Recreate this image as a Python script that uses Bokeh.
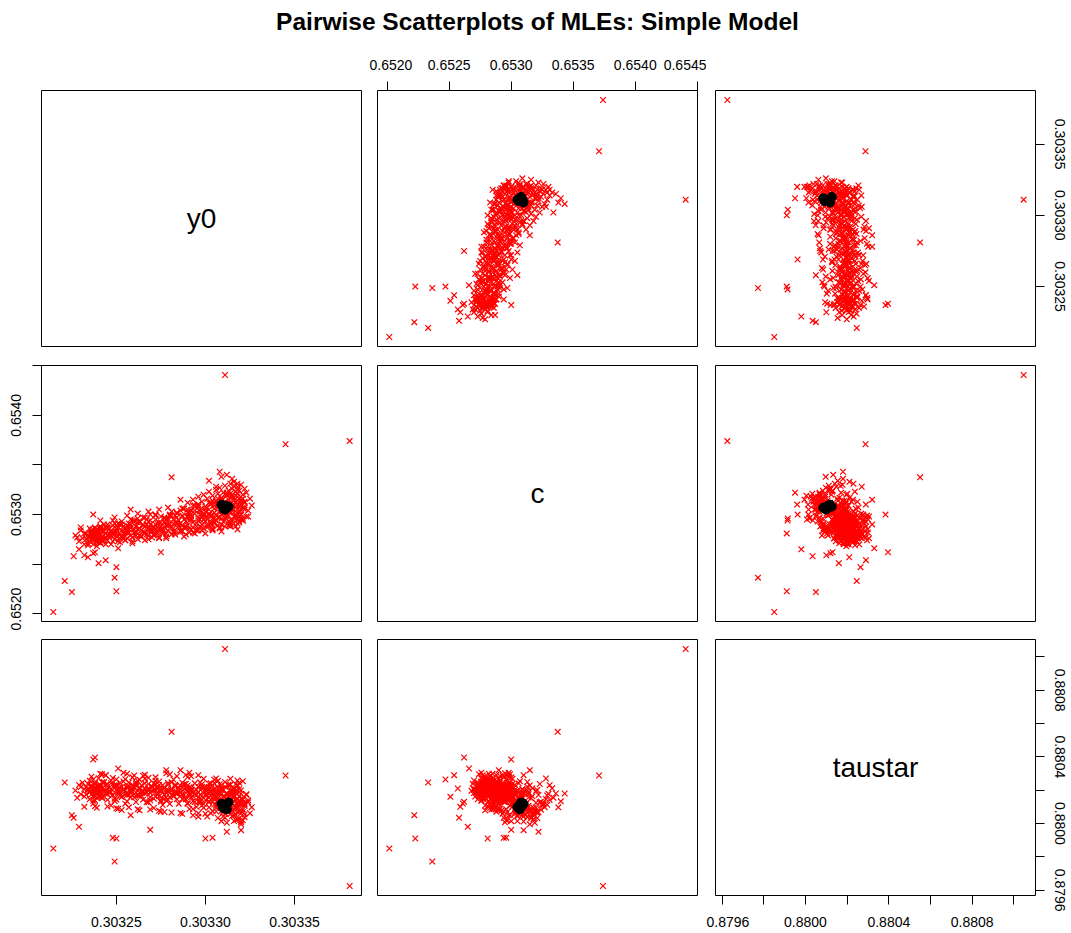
import numpy as np
from bokeh.core.properties import value
from bokeh.embed import file_html
from bokeh.layouts import column, gridplot
from bokeh.models import CustomJSTickFormatter, FixedTicker, LinearAxis, Range1d
from bokeh.plotting import figure
from bokeh.resources import INLINE

TITLE = "Pairwise Scatterplots of MLEs: Simple Model"
names = ["y0", "c", "taustar"]

# ---- simulated MLE replicates (red crosses) ----
# far-off replicates
y0_far = [0.3032146, 0.303225, 0.303221, 0.303250, 0.303249, 0.303250, 0.303240,
          0.303234, 0.303237, 0.303381, 0.303345, 0.303311, 0.303308, 0.303281]
c_far = [0.652018, 0.652219, 0.652331, 0.652227, 0.652364, 0.652470, 0.652510,
         0.652570, 0.652610, 0.653740, 0.653708, 0.654406, 0.653431, 0.653375]
tau_far = [0.879850, 0.880050, 0.880246, 0.879910, 0.879772, 0.880264, 0.880160,
           0.880210, 0.880120, 0.879625, 0.880288, 0.881047, 0.880180, 0.880550]

# replicates at the fringe of the main cloud
y0_fringe = [0.303238, 0.303251, 0.303278, 0.303291, 0.303296, 0.303300, 0.303304, 0.303312,
             0.303318, 0.303315, 0.303306, 0.303269, 0.303248, 0.303226, 0.303237, 0.303244,
             0.303232, 0.303229, 0.303320, 0.303286, 0.303275, 0.303258]
c_fringe = [0.65262, 0.65266, 0.65290, 0.65298, 0.65310, 0.65281, 0.65296, 0.65322,
            0.65331, 0.65336, 0.65328, 0.65300, 0.65294, 0.65258, 0.65300, 0.65254,
            0.65259, 0.65265, 0.65310, 0.65315, 0.65262, 0.65305]
tau_fringe = [0.880396, 0.880330, 0.880320, 0.880305, 0.880290, 0.879910, 0.879915, 0.879950,
              0.880230, 0.880180, 0.880270, 0.879962, 0.879914, 0.880034, 0.880384, 0.880290,
              0.880100, 0.879980, 0.879960, 0.880320, 0.880130, 0.880050]

# replicates along the edges of the main cloud
y0_edge = [0.303227, 0.303229, 0.303230, 0.303231, 0.303232, 0.303232, 0.303230, 0.303228,
           0.303241, 0.303249, 0.303256, 0.303262, 0.303268, 0.303274, 0.303279,
           0.303291, 0.303298, 0.303304, 0.303309, 0.303314, 0.303318,
           0.303324, 0.303325, 0.303323, 0.303326, 0.303324,
           0.303302, 0.303309, 0.303316, 0.303312]
c_edge = [0.65279, 0.65273, 0.65284, 0.65276, 0.65281, 0.65270, 0.65287, 0.65277,
          0.65294, 0.65297, 0.65299, 0.65301, 0.65303, 0.65305, 0.65307,
          0.65282, 0.65284, 0.65286, 0.65283, 0.65288, 0.65285,
          0.65304, 0.65316, 0.65322, 0.65309, 0.65298,
          0.65334, 0.65338, 0.65333, 0.65340]
tau_edge = [0.880198, 0.880231, 0.880176, 0.880245, 0.880162, 0.880207, 0.880219, 0.880154,
            0.880186, 0.880149, 0.880213, 0.880167, 0.880128, 0.880195, 0.880142,
            0.880176, 0.880142, 0.880201, 0.880118, 0.880163, 0.880089,
            0.880127, 0.880062, 0.880171, 0.880098, 0.880139,
            0.880155, 0.880097, 0.880211, 0.880133]

# main cloud, low y0
y0_low = [0.303234, 0.303235, 0.303236, 0.303237, 0.303237, 0.303238, 0.303239, 0.303241,
          0.303242, 0.303243, 0.303244, 0.303245, 0.303238, 0.303240, 0.303246,
          0.303247, 0.303248, 0.303249, 0.303250, 0.303251, 0.303252, 0.303253, 0.303254,
          0.303255, 0.303256, 0.303257, 0.303258, 0.303259, 0.303260, 0.303261, 0.303262,
          0.303250, 0.303255, 0.303259,
          0.303233, 0.303233, 0.303234, 0.303235, 0.303235, 0.303235, 0.303236, 0.303236,
          0.303237, 0.303237, 0.303238, 0.303238, 0.303238, 0.303239, 0.303239, 0.303239,
          0.303240, 0.303240, 0.303240, 0.303241, 0.303241, 0.303242, 0.303242, 0.303234,
          0.303236, 0.303237, 0.303239, 0.303241,
          0.303241, 0.303241, 0.303242, 0.303243, 0.303243, 0.303244, 0.303245, 0.303245,
          0.303246, 0.303247, 0.303247, 0.303248, 0.303249, 0.303249, 0.303250, 0.303251,
          0.303251, 0.303252, 0.303253, 0.303253, 0.303254, 0.303255, 0.303255, 0.303242,
          0.303246, 0.303250, 0.303252, 0.303254]
c_low = [0.65271, 0.65276, 0.65281, 0.65274, 0.65285, 0.65279, 0.65272, 0.65288,
         0.65277, 0.65283, 0.65270, 0.65290, 0.65286, 0.65275, 0.65280,
         0.65284, 0.65273, 0.65291, 0.65278, 0.65287, 0.65276, 0.65293, 0.65281,
         0.65274, 0.65289, 0.65282, 0.65295, 0.65277, 0.65285, 0.65279, 0.65292,
         0.65283, 0.65286, 0.65271,
         0.65275, 0.65281, 0.65269, 0.65278, 0.65286, 0.65273, 0.65280, 0.65284,
         0.65270, 0.65277, 0.65287, 0.65274, 0.65282, 0.65268, 0.65279, 0.65285,
         0.65272, 0.65276, 0.65283, 0.65271, 0.65288, 0.65278, 0.65273, 0.65279,
         0.65284, 0.65276, 0.65281, 0.65286,
         0.65279, 0.65272, 0.65285, 0.65276, 0.65290, 0.65281, 0.65274, 0.65287,
         0.65278, 0.65283, 0.65270, 0.65289, 0.65275, 0.65282, 0.65286, 0.65273,
         0.65291, 0.65280, 0.65277, 0.65284, 0.65288, 0.65274, 0.65282, 0.65283,
         0.65286, 0.65281, 0.65290, 0.65277]
tau_low = [0.880205, 0.880188, 0.880221, 0.880163, 0.880197, 0.880235, 0.880182, 0.880214,
           0.880152, 0.880246, 0.880201, 0.880176, 0.880139, 0.880228, 0.880193,
           0.880207, 0.880171, 0.880229, 0.880144, 0.880188, 0.880216, 0.880161, 0.880252,
           0.880198, 0.880133, 0.880224, 0.880185, 0.880209, 0.880157, 0.880238, 0.880176,
           0.880203, 0.880119, 0.880191,
           0.880216, 0.880174, 0.880238, 0.880192, 0.880257, 0.880145, 0.880229, 0.880201,
           0.880183, 0.880264, 0.880167, 0.880211, 0.880242, 0.880196, 0.880153, 0.880224,
           0.880187, 0.880271, 0.880208, 0.880162, 0.880231, 0.880179, 0.880247, 0.880199,
           0.880218, 0.880136, 0.880205, 0.880189,
           0.880193, 0.880227, 0.880161, 0.880249, 0.880204, 0.880178, 0.880236, 0.880142,
           0.880215, 0.880189, 0.880258, 0.880171, 0.880213, 0.880134, 0.880226, 0.880197,
           0.880182, 0.880244, 0.880159, 0.880219, 0.880201, 0.880174, 0.880266, 0.880210,
           0.880185, 0.880232, 0.880166, 0.880207]

# main cloud, middle y0
y0_mid = [0.303263, 0.303264, 0.303265, 0.303266, 0.303267, 0.303268, 0.303269, 0.303270,
          0.303271, 0.303272, 0.303273, 0.303274, 0.303275, 0.303276, 0.303277, 0.303278,
          0.303279, 0.303280, 0.303266, 0.303272, 0.303278,
          0.303281, 0.303282, 0.303283, 0.303284, 0.303285, 0.303286, 0.303287, 0.303288,
          0.303289, 0.303290, 0.303291, 0.303292, 0.303293, 0.303294, 0.303295, 0.303296,
          0.303297, 0.303298, 0.303284, 0.303290, 0.303295,
          0.303256, 0.303256, 0.303257, 0.303258, 0.303258, 0.303259, 0.303260, 0.303260,
          0.303261, 0.303262, 0.303262, 0.303263, 0.303264, 0.303264, 0.303265, 0.303266,
          0.303266, 0.303267, 0.303268, 0.303268, 0.303269, 0.303270, 0.303270, 0.303257,
          0.303261, 0.303263, 0.303267, 0.303269,
          0.303271, 0.303271, 0.303272, 0.303273, 0.303273, 0.303274, 0.303275, 0.303275,
          0.303276, 0.303277, 0.303277, 0.303278, 0.303279, 0.303279, 0.303280, 0.303281,
          0.303281, 0.303282, 0.303283, 0.303283, 0.303284, 0.303285, 0.303285, 0.303272,
          0.303276, 0.303278, 0.303282, 0.303284,
          0.303286, 0.303286, 0.303287, 0.303288, 0.303288, 0.303289, 0.303290, 0.303290,
          0.303291, 0.303292, 0.303292, 0.303293, 0.303294, 0.303294, 0.303295, 0.303296,
          0.303296, 0.303297, 0.303298, 0.303298, 0.303299, 0.303300, 0.303300, 0.303287,
          0.303291, 0.303293, 0.303297, 0.303299]
c_mid = [0.65286, 0.65278, 0.65297, 0.65282, 0.65290, 0.65275, 0.65294, 0.65284,
         0.65280, 0.65299, 0.65287, 0.65277, 0.65292, 0.65283, 0.65296, 0.65281,
         0.65289, 0.65300, 0.65288, 0.65285, 0.65276,
         0.65287, 0.65295, 0.65280, 0.65302, 0.65290, 0.65284, 0.65298, 0.65278,
         0.65293, 0.65305, 0.65286, 0.65296, 0.65282, 0.65301, 0.65291, 0.65308,
         0.65288, 0.65299, 0.65292, 0.65297, 0.65284,
         0.65283, 0.65276, 0.65291, 0.65279, 0.65287, 0.65273, 0.65294, 0.65282,
         0.65288, 0.65275, 0.65285, 0.65292, 0.65278, 0.65284, 0.65289, 0.65274,
         0.65281, 0.65295, 0.65286, 0.65279, 0.65290, 0.65283, 0.65277, 0.65288,
         0.65282, 0.65293, 0.65280, 0.65286,
         0.65288, 0.65279, 0.65295, 0.65283, 0.65291, 0.65276, 0.65298, 0.65285,
         0.65281, 0.65293, 0.65287, 0.65278, 0.65296, 0.65284, 0.65290, 0.65280,
         0.65299, 0.65286, 0.65292, 0.65282, 0.65297, 0.65288, 0.65294, 0.65290,
         0.65285, 0.65289, 0.65283, 0.65301,
         0.65291, 0.65283, 0.65299, 0.65287, 0.65295, 0.65280, 0.65302, 0.65289,
         0.65294, 0.65285, 0.65298, 0.65292, 0.65281, 0.65304, 0.65288, 0.65296,
         0.65284, 0.65300, 0.65290, 0.65297, 0.65286, 0.65303, 0.65293, 0.65289,
         0.65301, 0.65287, 0.65295, 0.65299]
tau_mid = [0.880214, 0.880167, 0.880195, 0.880241, 0.880128, 0.880206, 0.880183, 0.880222,
           0.880149, 0.880201, 0.880174, 0.880231, 0.880192, 0.880111, 0.880215, 0.880186,
           0.880243, 0.880158, 0.880179, 0.880257, 0.880138,
           0.880197, 0.880162, 0.880224, 0.880181, 0.880119, 0.880208, 0.880173, 0.880236,
           0.880146, 0.880193, 0.880087, 0.880214, 0.880165, 0.880129, 0.880202, 0.880156,
           0.880247, 0.880108, 0.880189, 0.880228, 0.880171,
           0.880221, 0.880183, 0.880246, 0.880157, 0.880205, 0.880232, 0.880176, 0.880214,
           0.880129, 0.880198, 0.880255, 0.880167, 0.880228, 0.880191, 0.880143, 0.880212,
           0.880269, 0.880185, 0.880203, 0.880237, 0.880158, 0.880196, 0.880221, 0.880174,
           0.880248, 0.880206, 0.880189, 0.880139,
           0.880198, 0.880241, 0.880163, 0.880217, 0.880186, 0.880252, 0.880139, 0.880204,
           0.880229, 0.880175, 0.880212, 0.880156, 0.880234, 0.880191, 0.880118, 0.880208,
           0.880247, 0.880169, 0.880225, 0.880183, 0.880146, 0.880213, 0.880196, 0.880236,
           0.880152, 0.880201, 0.880264, 0.880177,
           0.880184, 0.880226, 0.880147, 0.880209, 0.880171, 0.880238, 0.880122, 0.880195,
           0.880217, 0.880158, 0.880203, 0.880134, 0.880241, 0.880176, 0.880099, 0.880221,
           0.880188, 0.880152, 0.880209, 0.880236, 0.880117, 0.880174, 0.880199, 0.880245,
           0.880163, 0.880187, 0.880128, 0.880214]

# main cloud, high y0
y0_high = [0.303299, 0.303300, 0.303301, 0.303302, 0.303303, 0.303304, 0.303305, 0.303306,
           0.303307, 0.303308, 0.303309, 0.303310, 0.303311, 0.303312, 0.303300, 0.303304,
           0.303308, 0.303310, 0.303302,
           0.303313, 0.303314, 0.303315, 0.303316, 0.303317, 0.303318, 0.303319, 0.303320,
           0.303321, 0.303322, 0.303316, 0.303313, 0.303319, 0.303314,
           0.303301, 0.303301, 0.303302, 0.303303, 0.303303, 0.303304, 0.303304, 0.303305,
           0.303306, 0.303306, 0.303307, 0.303307, 0.303308, 0.303308, 0.303309, 0.303309,
           0.303310, 0.303310, 0.303311, 0.303311, 0.303312, 0.303312, 0.303302, 0.303305,
           0.303307, 0.303309, 0.303311, 0.303303,
           0.303313, 0.303313, 0.303314, 0.303314, 0.303315, 0.303315, 0.303316, 0.303316,
           0.303317, 0.303317, 0.303318, 0.303318, 0.303319, 0.303319, 0.303320, 0.303320,
           0.303321, 0.303321, 0.303322, 0.303322, 0.303323, 0.303314, 0.303316, 0.303317,
           0.303319, 0.303320, 0.303315, 0.303318]
c_high = [0.65295, 0.65306, 0.65289, 0.65312, 0.65299, 0.65285, 0.65309, 0.65294,
          0.65316, 0.65302, 0.65290, 0.65311, 0.65297, 0.65320, 0.65293, 0.65314,
          0.65287, 0.65305, 0.65301,
          0.65304, 0.65292, 0.65318, 0.65309, 0.65297, 0.65325, 0.65302, 0.65313,
          0.65294, 0.65307, 0.65329, 0.65289, 0.65316, 0.65321,
          0.65296, 0.65287, 0.65305, 0.65291, 0.65310, 0.65299, 0.65284, 0.65302,
          0.65294, 0.65313, 0.65289, 0.65307, 0.65297, 0.65286, 0.65304, 0.65316,
          0.65293, 0.65301, 0.65288, 0.65311, 0.65298, 0.65306, 0.65300, 0.65292,
          0.65309, 0.65296, 0.65303, 0.65290,
          0.65299, 0.65311, 0.65290, 0.65306, 0.65318, 0.65295, 0.65302, 0.65314,
          0.65288, 0.65308, 0.65321, 0.65297, 0.65304, 0.65292, 0.65310, 0.65300,
          0.65316, 0.65294, 0.65305, 0.65312, 0.65298, 0.65303, 0.65291, 0.65313,
          0.65307, 0.65296, 0.65309, 0.65301]
tau_high = [0.880183, 0.880141, 0.880216, 0.880097, 0.880168, 0.880134, 0.880205, 0.880072,
            0.880152, 0.880119, 0.880229, 0.880088, 0.880161, 0.880124, 0.880059, 0.880187,
            0.880103, 0.880043, 0.880238,
            0.880137, 0.880176, 0.880094, 0.880158, 0.880021, 0.880117, 0.880189, 0.880063,
            0.880142, 0.880105, 0.880168, 0.880082, 0.880031, 0.880201,
            0.880171, 0.880208, 0.880133, 0.880195, 0.880062, 0.880152, 0.880227, 0.880114,
            0.880186, 0.880093, 0.880214, 0.880141, 0.880178, 0.880236, 0.880124, 0.880075,
            0.880199, 0.880162, 0.880221, 0.880108, 0.880147, 0.880183, 0.880219, 0.880166,
            0.880131, 0.880204, 0.880058, 0.880241,
            0.880154, 0.880091, 0.880196, 0.880128, 0.880045, 0.880172, 0.880213, 0.880106,
            0.880187, 0.880139, 0.880068, 0.880224, 0.880117, 0.880161, 0.880012, 0.880198,
            0.880083, 0.880146, 0.880121, 0.880054, 0.880176, 0.880232, 0.880134, 0.880197,
            0.880072, 0.880149, 0.880185, 0.880101]

# upper end of the cloud: large y0, spread-out c
y0_top = [0.303288, 0.303290, 0.303291, 0.303293, 0.303294, 0.303296, 0.303297, 0.303298, 0.303299, 0.303300,
          0.303301, 0.303302, 0.303303, 0.303304, 0.303305, 0.303306, 0.303306, 0.303307, 0.303308, 0.303308,
          0.303309, 0.303310, 0.303310, 0.303311, 0.303311, 0.303312, 0.303312, 0.303313, 0.303313, 0.303314,
          0.303314, 0.303315, 0.303315, 0.303316, 0.303316, 0.303317, 0.303317, 0.303318, 0.303318, 0.303319,
          0.303319, 0.303320, 0.303320, 0.303321, 0.303321, 0.303322, 0.303322, 0.303305, 0.303309, 0.303313,
          0.303316, 0.303318, 0.303320, 0.303303, 0.303307, 0.303311, 0.303314, 0.303317, 0.303319, 0.303321]
c_top = [0.65306, 0.65312, 0.65303, 0.65315, 0.65309, 0.65318, 0.65305, 0.65313, 0.65320, 0.65308,
         0.65316, 0.65323, 0.65311, 0.65319, 0.65306, 0.65325, 0.65314, 0.65321, 0.65310, 0.65327,
         0.65317, 0.65304, 0.65322, 0.65313, 0.65329, 0.65319, 0.65308, 0.65324, 0.65315, 0.65331,
         0.65311, 0.65320, 0.65326, 0.65305, 0.65317, 0.65323, 0.65312, 0.65328, 0.65318, 0.65309,
         0.65324, 0.65315, 0.65330, 0.65320, 0.65307, 0.65326, 0.65313, 0.65296, 0.65300, 0.65293,
         0.65298, 0.65291, 0.65295, 0.65292, 0.65297, 0.65294, 0.65290, 0.65299, 0.65293, 0.65296]
tau_top = [0.880152, 0.880118, 0.880203, 0.880087, 0.880176, 0.880061, 0.880134, 0.880221, 0.880095, 0.880168,
           0.880042, 0.880127, 0.880193, 0.880074, 0.880241, 0.880109, 0.880156, 0.880033, 0.880185, 0.880098,
           0.880212, 0.880137, 0.880067, 0.880249, 0.880112, 0.880004, 0.880174, 0.880083, 0.880228, 0.880141,
           0.880056, 0.880196, 0.880121, 0.880015, 0.880163, 0.880237, 0.880092, 0.880147, 0.880026, 0.880206,
           0.880131, 0.879995, 0.880178, 0.880069, 0.880254, 0.880113, 0.880038, 0.880262, 0.880014, 0.880233,
           0.880049, 0.880258, 0.880007, 0.880187, 0.880256, 0.880035, 0.880268, 0.880052, 0.880244, 0.880019]

# replicates in the taustar tails of the cloud
y0_wide = [0.303236, 0.303239, 0.303242, 0.303245, 0.303248, 0.303251, 0.303254, 0.303257, 0.303260, 0.303263,
           0.303266, 0.303269, 0.303272, 0.303275, 0.303278, 0.303281, 0.303284, 0.303287, 0.303290, 0.303293,
           0.303238, 0.303244, 0.303250, 0.303256, 0.303262, 0.303268, 0.303274, 0.303280, 0.303286, 0.303292,
           0.303296, 0.303299, 0.303241, 0.303253, 0.303265, 0.303277, 0.303289, 0.303247, 0.303259, 0.303271]
c_wide = [0.65278, 0.65283, 0.65274, 0.65287, 0.65280, 0.65291, 0.65276, 0.65285, 0.65293, 0.65279,
          0.65297, 0.65284, 0.65300, 0.65288, 0.65295, 0.65303, 0.65291, 0.65306, 0.65298, 0.65309,
          0.65281, 0.65277, 0.65289, 0.65282, 0.65296, 0.65286, 0.65292, 0.65299, 0.65304, 0.65295,
          0.65310, 0.65301, 0.65285, 0.65290, 0.65283, 0.65297, 0.65288, 0.65279, 0.65294, 0.65287]
tau_wide = [0.880281, 0.880094, 0.880296, 0.880102, 0.880273, 0.880088, 0.880305, 0.880097, 0.880288, 0.880079,
            0.880292, 0.880084, 0.880277, 0.880071, 0.880301, 0.880066, 0.880284, 0.880058, 0.880279, 0.880049,
            0.880104, 0.880289, 0.880091, 0.880299, 0.880085, 0.880274, 0.880076, 0.880295, 0.880063, 0.880283,
            0.880041, 0.880268, 0.880298, 0.880081, 0.880286, 0.880069, 0.880291, 0.880108, 0.880277, 0.880093]

# extra replicates across the whole cloud
y0_extra = [0.303236, 0.303244, 0.303252, 0.303258, 0.303263, 0.303268, 0.303274, 0.303279,
            0.303283, 0.303287, 0.303292, 0.303296, 0.303301, 0.303305, 0.303309, 0.303312,
            0.303315, 0.303318, 0.303239, 0.303247, 0.303256, 0.303265, 0.303273, 0.303282,
            0.303289, 0.303297, 0.303306, 0.303311, 0.303320, 0.303243, 0.303261]
c_extra = [0.65282, 0.65287, 0.65272, 0.65290, 0.65279, 0.65293, 0.65286, 0.65294,
           0.65299, 0.65283, 0.65304, 0.65294, 0.65298, 0.65291, 0.65314, 0.65299,
           0.65306, 0.65295, 0.65277, 0.65279, 0.65284, 0.65290, 0.65281, 0.65291,
           0.65287, 0.65303, 0.65300, 0.65308, 0.65300, 0.65274, 0.65288]
tau_extra = [0.880174, 0.880231, 0.880183, 0.880196, 0.880263, 0.880212, 0.880164, 0.880199,
             0.880233, 0.880178, 0.880195, 0.880131, 0.880197, 0.880158, 0.880176, 0.880109,
             0.880079, 0.880148, 0.880209, 0.880242, 0.880171, 0.880189, 0.880207, 0.880185,
             0.880214, 0.880172, 0.880193, 0.880133, 0.880116, 0.880189, 0.880226]

# ---- MLEs from the observed series (black dots) ----
y0_mle = [0.303310, 0.303311, 0.303312, 0.303309, 0.303311, 0.303313]
c_mle = [0.65306, 0.65309, 0.65307, 0.65310, 0.65305, 0.65308]
tau_mle = [0.880092, 0.880108, 0.880085, 0.880118, 0.880099, 0.880126]

# ---- tick positions and labels ----
y0_ticks = [0.30325, 0.30330, 0.30335]
y0_labels = ["0.30325", "0.30330", "0.30335"]
c_ticks = [0.6520, 0.6525, 0.6530, 0.6535, 0.6540, 0.6545]
c_labels_top = ["0.6520", "0.6525", "0.6530", "0.6535", "0.6540", "0.6545"]
c_labels_left = ["0.6520", "", "0.6530", "", "0.6540", ""]
tau_ticks = [0.8796, 0.8798, 0.8800, 0.8802, 0.8804, 0.8806, 0.8808, 0.8810]
tau_labels = ["0.8796", "", "0.8800", "", "0.8804", "", "0.8808", ""]

sim = {
    "y0": y0_far + y0_fringe + y0_edge + y0_low + y0_mid + y0_high + y0_top + y0_wide + y0_extra,
    "c": c_far + c_fringe + c_edge + c_low + c_mid + c_high + c_top + c_wide + c_extra,
    "taustar": (tau_far + tau_fringe + tau_edge + tau_low + tau_mid + tau_high
                + tau_top + tau_wide + tau_extra),
}
mle = {"y0": y0_mle, "c": c_mle, "taustar": tau_mle}
assert len(set(len(v) for v in sim.values())) == 1

FONT = "Liberation Sans"
TICK_JS = """
for (let i = 0; i < tv.length; i++) {
    if (Math.abs(tv[i] - tick) < 1e-9) { return tl[i]; }
}
return "";
"""
STANDOFF = {"above": 12, "below": 12, "left": 11, "right": 10}


def padded_range(name):
    vals = np.array(sim[name] + mle[name])
    lo, hi = vals.min(), vals.max()
    pad = 0.04 * (hi - lo)
    return lo - pad, hi + pad


def add_axis(p, side, ticks, labels):
    ax = LinearAxis(
        ticker=FixedTicker(ticks=ticks),
        formatter=CustomJSTickFormatter(args=dict(tv=ticks, tl=labels), code=TICK_JS),
        bounds=(ticks[0], ticks[-1]),
        major_tick_in=0, major_tick_out=9,
        minor_tick_in=0, minor_tick_out=0,
        axis_line_color="black", axis_line_width=1,
        major_tick_line_color="black", major_tick_line_width=1,
        major_label_text_font=FONT, major_label_text_font_size="14px",
        major_label_text_color="black",
        major_label_standoff=STANDOFF[side],
    )
    if side in ("left", "right"):
        ax.major_label_orientation = "vertical"
    p.add_layout(ax, side)


ranges = {n: padded_range(n) for n in names}
HEAD_H = 50
col_border = [(41, 8), (8, 9), (9, 36)]
row_border = [(90 - HEAD_H, 9), (10, 9), (9, 38)]

rows = []
for i, yname in enumerate(names):
    row = []
    for j, xname in enumerate(names):
        p = figure(
            frame_width=320, frame_height=256,
            x_range=Range1d(*ranges[xname]), y_range=Range1d(*ranges[yname]),
            x_axis_location=None, y_axis_location=None,
            toolbar_location=None, output_backend="svg", title=None,
            min_border_left=col_border[j][0], min_border_right=col_border[j][1],
            min_border_top=row_border[i][0], min_border_bottom=row_border[i][1],
            background_fill_color="white", border_fill_color="white",
        )
        p.grid.visible = False
        p.outline_line_color = "black"
        p.outline_line_width = 1
        p.outline_line_alpha = 1.0

        if i == j:
            xr, yr = ranges[xname], ranges[yname]
            p.text(x=[(xr[0] + xr[1]) / 2], y=[(yr[0] + yr[1]) / 2], text=[xname],
                   text_font=value(FONT), text_font_size="28px",
                   text_align="center", text_baseline="middle", text_color="black")
        else:
            p.scatter(sim[xname], sim[yname], marker="x", size=8,
                      line_color="#ff0000", line_width=1.2)
            p.scatter(mle[xname], mle[yname], marker="circle", size=9,
                      fill_color="black", line_color="black")
        row.append(p)
    rows.append(row)

# outer axes, alternating sides as in a pairs plot
add_axis(rows[0][1], "above", c_ticks, c_labels_top)
add_axis(rows[0][2], "right", y0_ticks, y0_labels)
add_axis(rows[1][0], "left", c_ticks, c_labels_left)
add_axis(rows[2][0], "below", y0_ticks, y0_labels)
add_axis(rows[2][2], "below", tau_ticks, tau_labels)
add_axis(rows[2][2], "right", tau_ticks, tau_labels)

# title strip across the full page width (pixel coordinates, y measured upward)
head = figure(
    frame_width=1071, frame_height=HEAD_H,
    x_range=Range1d(0, 1071), y_range=Range1d(0, HEAD_H),
    x_axis_location=None, y_axis_location=None,
    toolbar_location=None, output_backend="svg", title=None,
    min_border_left=0, min_border_right=0, min_border_top=0, min_border_bottom=0,
    background_fill_color="white", border_fill_color="white",
)
head.grid.visible = False
head.outline_line_color = None
head.text(x=[537], y=[HEAD_H - 20.5], text=[TITLE], text_font=value(FONT),
          text_font_size="24.5px", text_font_style="bold", text_color="black",
          text_align="center", text_baseline="middle")

grid = gridplot(rows, toolbar_location=None)
page = column(head, grid, spacing=0)

with open("out.html", "w") as f:
    f.write(file_html(page, INLINE, title=TITLE))
